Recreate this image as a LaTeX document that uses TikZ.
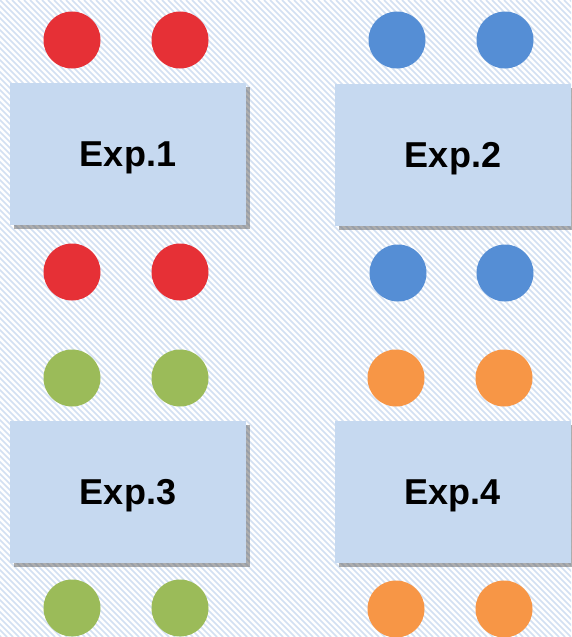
\documentclass[tikz,border=0pt]{standalone}
\usepackage{fontspec}
\setmainfont{Liberation Sans}
\usetikzlibrary{shadows}
\definecolor{cred}{HTML}{E63036}
\definecolor{cblue}{HTML}{558ED5}
\definecolor{cgreen}{HTML}{9BBB59}
\definecolor{corange}{HTML}{F79646}
\definecolor{boxfill}{HTML}{C6D9F0}
\definecolor{hatch}{HTML}{D3E0F2}
\begin{document}
\begin{tikzpicture}[x=1pt,y=-1pt,
  dot/.style={circle,minimum size=57pt,inner sep=0pt},
  expbox/.style={rectangle,fill=boxfill,minimum width=236pt,minimum height=142pt,inner sep=0pt,
    text depth=0pt,
    font=\fontsize{36}{40}\selectfont\bfseries,
    drop shadow={shadow xshift=4pt,shadow yshift=-4pt,opacity=0.45,fill=black!70}},
]
\useasboundingbox (0,0) rectangle (571,637);
\fill[white] (0,0) rectangle (571,637);
\begin{scope}
\clip (0,0) rectangle (571,637);
\foreach \i in {-110,...,110} {
  \draw[hatch,line width=1.6pt] (\i*6,0) -- (\i*6+637,637);
}
\end{scope}
% boxes
\node[expbox] (e1) at (128,154) {Exp.1};
\node[expbox] (e2) at (453,155) {Exp.2};
\node[expbox] (e3) at (128,492) {Exp.3};
\node[expbox] (e4) at (452.5,492) {Exp.4};
% dots
\node[dot,fill=cred] (r1) at (72,40) {};
\node[dot,fill=cred] (r2) at (180,40) {};
\node[dot,fill=cred] (r3) at (72,272) {};
\node[dot,fill=cred] (r4) at (180,272) {};
\node[dot,fill=cblue] (b1) at (397,40) {};
\node[dot,fill=cblue] (b2) at (505,40) {};
\node[dot,fill=cblue] (b3) at (398,273) {};
\node[dot,fill=cblue] (b4) at (505,273) {};
\node[dot,fill=cgreen] (g1) at (72,378) {};
\node[dot,fill=cgreen] (g2) at (180,378) {};
\node[dot,fill=cgreen] (g3) at (72,608) {};
\node[dot,fill=cgreen] (g4) at (180,608) {};
\node[dot,fill=corange] (o1) at (396,378) {};
\node[dot,fill=corange] (o2) at (504,378) {};
\node[dot,fill=corange] (o3) at (396,609) {};
\node[dot,fill=corange] (o4) at (504,609) {};
\end{tikzpicture}
\end{document}
